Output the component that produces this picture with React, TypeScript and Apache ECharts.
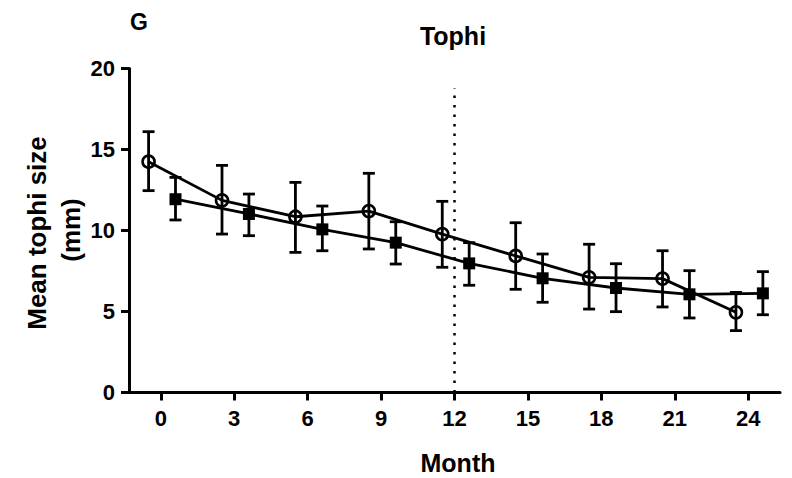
import React, { useEffect, useRef } from "react";
import * as echarts from "echarts";

const months = [0, 3, 6, 9, 12, 15, 18, 21, 24];
const xTicks = [0, 3, 6, 9, 12, 15, 18, 21, 24];
const yTicks = [0, 5, 10, 15, 20];

// open circles
const circleMean = [14.25, 11.86, 10.85, 11.2, 9.78, 8.43, 7.11, 7.03, 4.95];
const circleUpper = [16.1, 14.02, 12.97, 13.53, 11.8, 10.48, 9.15, 8.75, 6.18];
const circleLower = [12.46, 9.78, 8.65, 8.86, 7.73, 6.37, 5.15, 5.28, 3.82];

// filled squares
const squareMean = [11.93, 11.02, 10.07, 9.25, 7.97, 7.05, 6.45, 6.06, 6.12];
const squareUpper = [13.28, 12.25, 11.51, 10.54, 9.25, 8.55, 7.95, 7.52, 7.46];
const squareLower = [10.65, 9.68, 8.75, 7.93, 6.62, 5.57, 4.99, 4.6, 4.8];

const refMonth = 12;
const refTop = 18.8;

const CIRCLE_SHIFT = -0.5;
const SQUARE_SHIFT = 0.6;
const FONT = "'Liberation Sans', Arial, sans-serif";

function errorSeries(shift: number, lower: number[], upper: number[]) {
  return {
    type: "custom",
    z: 2,
    silent: true,
    data: months.map((m, i) => [m + shift, lower[i], upper[i]]),
    renderItem: (params: any, api: any) => {
      const x = api.value(0);
      const lo = api.coord([x, api.value(1)]);
      const hi = api.coord([x, api.value(2)]);
      const hw = 6;
      const style = { stroke: "#000", lineWidth: 2.8, fill: "none" };
      return {
        type: "group",
        children: [
          { type: "line", shape: { x1: lo[0], y1: lo[1], x2: hi[0], y2: hi[1] }, style },
          { type: "line", shape: { x1: lo[0] - hw, y1: lo[1], x2: lo[0] + hw, y2: lo[1] }, style },
          { type: "line", shape: { x1: hi[0] - hw, y1: hi[1], x2: hi[0] + hw, y2: hi[1] }, style },
        ],
      };
    },
  };
}

export default function App() {
  const ref = useRef<HTMLDivElement>(null);
  useEffect(() => {
    if (!ref.current) return;
    const chart = echarts.init(ref.current, null, { renderer: "svg" });
    const textStyle = (text: string, size: number) => ({
      text,
      fontSize: size,
      fontWeight: "bold",
      fontFamily: FONT,
      fill: "#000",
      textAlign: "center",
      textVerticalAlign: "middle",
    });
    chart.setOption({
      animation: false,
      backgroundColor: "#fff",
      grid: { left: 129, right: 12, top: 68.5, bottom: 85.5, containLabel: false },
      xAxis: {
        type: "value",
        min: -1.3,
        max: 25.3,
        splitLine: { show: false },
        axisLine: { onZero: false, lineStyle: { color: "#000", width: 3 } },
        axisTick: { customValues: xTicks, length: 8, lineStyle: { color: "#000", width: 3 } },
        axisLabel: {
          customValues: xTicks,
          margin: 15,
          color: "#000",
          fontSize: 22,
          fontWeight: "bold",
          fontFamily: FONT,
        },
      },
      yAxis: {
        type: "value",
        min: 0,
        max: 20,
        interval: 5,
        splitLine: { show: false },
        axisLine: { show: true, onZero: false, lineStyle: { color: "#000", width: 3 } },
        axisTick: { show: true, customValues: yTicks, length: 8, lineStyle: { color: "#000", width: 3 } },
        axisLabel: {
          customValues: yTicks,
          margin: 14,
          color: "#000",
          fontSize: 22,
          fontWeight: "bold",
          fontFamily: FONT,
        },
      },
      graphic: [
        { type: "text", x: 139, y: 22, style: textStyle("G", 23) },
        { type: "text", x: 453, y: 36, style: textStyle("Tophi", 25) },
        { type: "text", x: 458, y: 463, style: textStyle("Month", 25) },
        { type: "text", x: 37, y: 233, rotation: Math.PI / 2, style: textStyle("Mean tophi size", 26) },
        { type: "text", x: 71, y: 230, rotation: Math.PI / 2, style: textStyle("(mm)", 26) },
      ],
      series: [
        {
          type: "line",
          z: 1,
          silent: true,
          symbol: "none",
          data: [[refMonth, 0], [refMonth, refTop]],
          lineStyle: { color: "#000", width: 2.5, type: [2.5, 7] },
        },
        errorSeries(CIRCLE_SHIFT, circleLower, circleUpper),
        errorSeries(SQUARE_SHIFT, squareLower, squareUpper),
        {
          type: "line",
          z: 3,
          data: months.map((m, i) => [m + CIRCLE_SHIFT, circleMean[i]]),
          symbol: "circle",
          symbolSize: 12,
          showAllSymbol: true,
          lineStyle: { color: "#000", width: 2.8 },
          itemStyle: { color: "rgba(255,255,255,0)", borderColor: "#000", borderWidth: 2.6 },
        },
        {
          type: "line",
          z: 3,
          data: months.map((m, i) => [m + SQUARE_SHIFT, squareMean[i]]),
          symbol: "rect",
          symbolSize: 12,
          showAllSymbol: true,
          lineStyle: { color: "#000", width: 2.8 },
          itemStyle: { color: "#000", borderColor: "#000", borderWidth: 0 },
        },
      ],
    });
    return () => chart.dispose();
  }, []);
  return (
    <div
      ref={ref}
      style={{ position: "absolute", left: 0, top: 0, width: 792, height: 478 }}
    />
  );
}
